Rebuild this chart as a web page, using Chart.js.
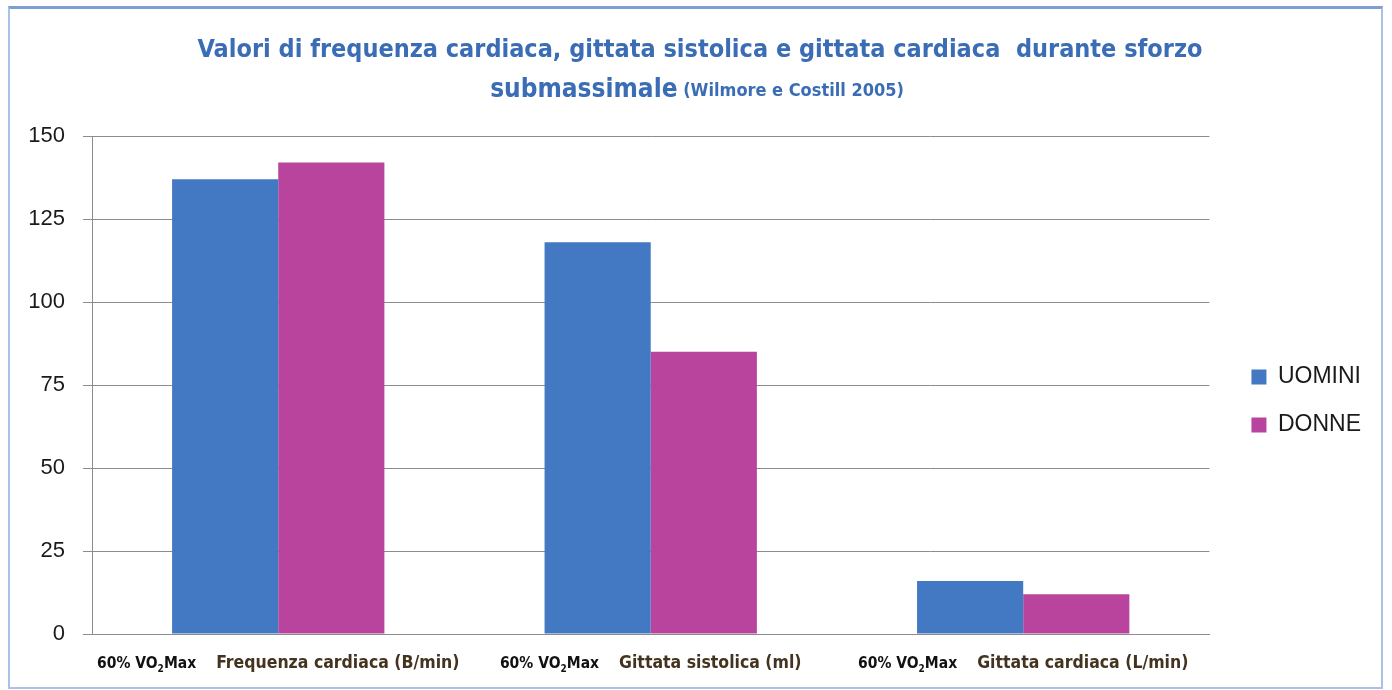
<!DOCTYPE html>
<html>
<head>
<meta charset="utf-8">
<script src="https://cdn.jsdelivr.net/npm/chart.js@4/dist/chart.umd.min.js"></script>
<style>
  html, body { margin: 0; padding: 0; background: #fff; }
  #wrap { position: relative; width: 1392px; height: 690px; }
  #frame { position: absolute; left: 8px; top: 6px; width: 1371px; height: 678px;
           border: 2px solid #aac2e4; border-top: 3px solid #7d9fd1; pointer-events: none; }
</style>
</head>
<body>
<div id="wrap">
  <canvas id="chart" width="1392" height="690"></canvas>
  <div id="frame"></div>
</div>
<script>
// data
const categories = ['Frequenza cardiaca (B/min)', 'Gittata sistolica (ml)', 'Gittata cardiaca (L/min)'];
const conditionLabel = ['60% VO', '2', 'Max'];   // 60% VO2Max, the 2 is a subscript
const seriesNames = ['UOMINI', 'DONNE'];
const uomini = [137, 118, 16];
const donne = [142, 85, 12];
const yTicks = [0, 25, 50, 75, 100, 125, 150];
const titleLine1 = 'Valori di frequenza cardiaca, gittata sistolica e gittata cardiaca  durante sforzo';
const titleLine2 = ['submassimale', ' (Wilmore e Costill 2005)'];

const narrow = "'Liberation Sans Narrow', 'DejaVu Sans Condensed', sans-serif";
const gridColor = '#8c8c8c';

// title drawn above the plot, two sizes on the second line
const titlePlugin = {
    id: 'twoLineTitle',
    afterDraw(chart) {
        const ctx = chart.ctx;
        const cx = 700;
        ctx.save();
        ctx.fillStyle = '#3a6db5';
        ctx.textBaseline = 'alphabetic';
        ctx.textAlign = 'center';
        ctx.font = 'bold 25px ' + narrow;
        ctx.fillText(titleLine1, cx, 57);

        ctx.textAlign = 'left';
        ctx.font = 'bold 26px ' + narrow;
        const w1 = ctx.measureText(titleLine2[0]).width;
        ctx.font = 'bold 18px ' + narrow;
        const w2 = ctx.measureText(titleLine2[1]).width;
        let x = 697 - (w1 + w2) / 2;
        ctx.font = 'bold 26px ' + narrow;
        ctx.fillText(titleLine2[0], x, 97);
        ctx.font = 'bold 18px ' + narrow;
        ctx.fillText(titleLine2[1], x + w1, 96);
        ctx.restore();
    }
};

// category labels: "60% VO2Max" + category name, placed on the x scale
const xLabelPlugin = {
    id: 'xLabels',
    afterDraw(chart) {
        const ctx = chart.ctx;
        const xs = chart.scales.x;
        const cond = 'bold 15.5px ' + narrow;
        const sub = 'bold 10px ' + narrow;
        const name = 'bold 17.5px ' + narrow;
        const gap = 20;
        const baseY = 668;
        ctx.save();
        ctx.textBaseline = 'alphabetic';
        ctx.textAlign = 'left';
        categories.forEach((cat, i) => {
            ctx.font = cond;
            const a = ctx.measureText(conditionLabel[0]).width;
            const c = ctx.measureText(conditionLabel[2]).width;
            ctx.font = name;
            const d = ctx.measureText(cat).width;
            ctx.font = sub;
            const b = ctx.measureText(conditionLabel[1]).width;
            const total = a + b + c + gap + d;
            let x = xs.getPixelForValue(i) - total / 2;

            ctx.fillStyle = '#111111';
            ctx.font = cond;
            ctx.fillText(conditionLabel[0], x, baseY);
            ctx.font = sub;
            ctx.fillText(conditionLabel[1], x + a, baseY + 4);
            ctx.font = cond;
            ctx.fillText(conditionLabel[2], x + a + b, baseY);

            ctx.fillStyle = '#43331f';
            ctx.font = name;
            ctx.fillText(cat, x + a + b + c + gap, baseY);
        });
        ctx.restore();
    }
};

const ctx = document.getElementById('chart').getContext('2d');
new Chart(ctx, {
    type: 'bar',
    data: {
        labels: categories,
        datasets: [{
            label: seriesNames[0],
            data: uomini,
            backgroundColor: '#4279c2',
            borderWidth: 0,
            categoryPercentage: 0.57,
            barPercentage: 1.0
        }, {
            label: seriesNames[1],
            data: donne,
            backgroundColor: '#b9449d',
            borderWidth: 0,
            categoryPercentage: 0.57,
            barPercentage: 1.0
        }]
    },
    options: {
        responsive: false,
        animation: false,
        layout: {
            padding: { top: 136, right: 21, bottom: 0, left: 0 }
        },
        plugins: {
            title: { display: false },
            tooltip: { enabled: false },
            legend: {
                position: 'right',
                fullSize: false,
                align: 'center',
                title: { display: true, text: '', font: { size: 10 }, padding: 10 },
                labels: {
                    boxWidth: 15,
                    boxHeight: 15,
                    padding: 25,
                    color: '#1a1a1a',
                    font: { family: "'Liberation Sans', Arial, sans-serif", size: 23 }
                }
            }
        },
        scales: {
            x: {
                grid: { display: false },
                border: { display: true, color: gridColor, width: 1 },
                ticks: { display: false },
                afterFit: (s) => { s.height = 56; }
            },
            y: {
                min: 0,
                max: 150,
                afterBuildTicks: (s) => { s.ticks = yTicks.map(v => ({ value: v })); },
                grid: { color: gridColor, lineWidth: 1, tickLength: 9 },
                border: { display: true, color: gridColor, width: 1 },
                ticks: {
                    padding: 18,
                    color: '#1a1a1a',
                    font: { family: "'Liberation Sans', Arial, sans-serif", size: 22 }
                },
                afterFit: (s) => { s.width = 92; }
            },
            // empty spacer between plot and legend
            gap: {
                type: 'linear',
                position: 'right',
                display: true,
                grid: { display: false },
                border: { display: false },
                ticks: { display: false },
                afterFit: (s) => { s.width = 17; }
            }
        }
    },
    plugins: [titlePlugin, xLabelPlugin]
});
</script>
</body>
</html>
